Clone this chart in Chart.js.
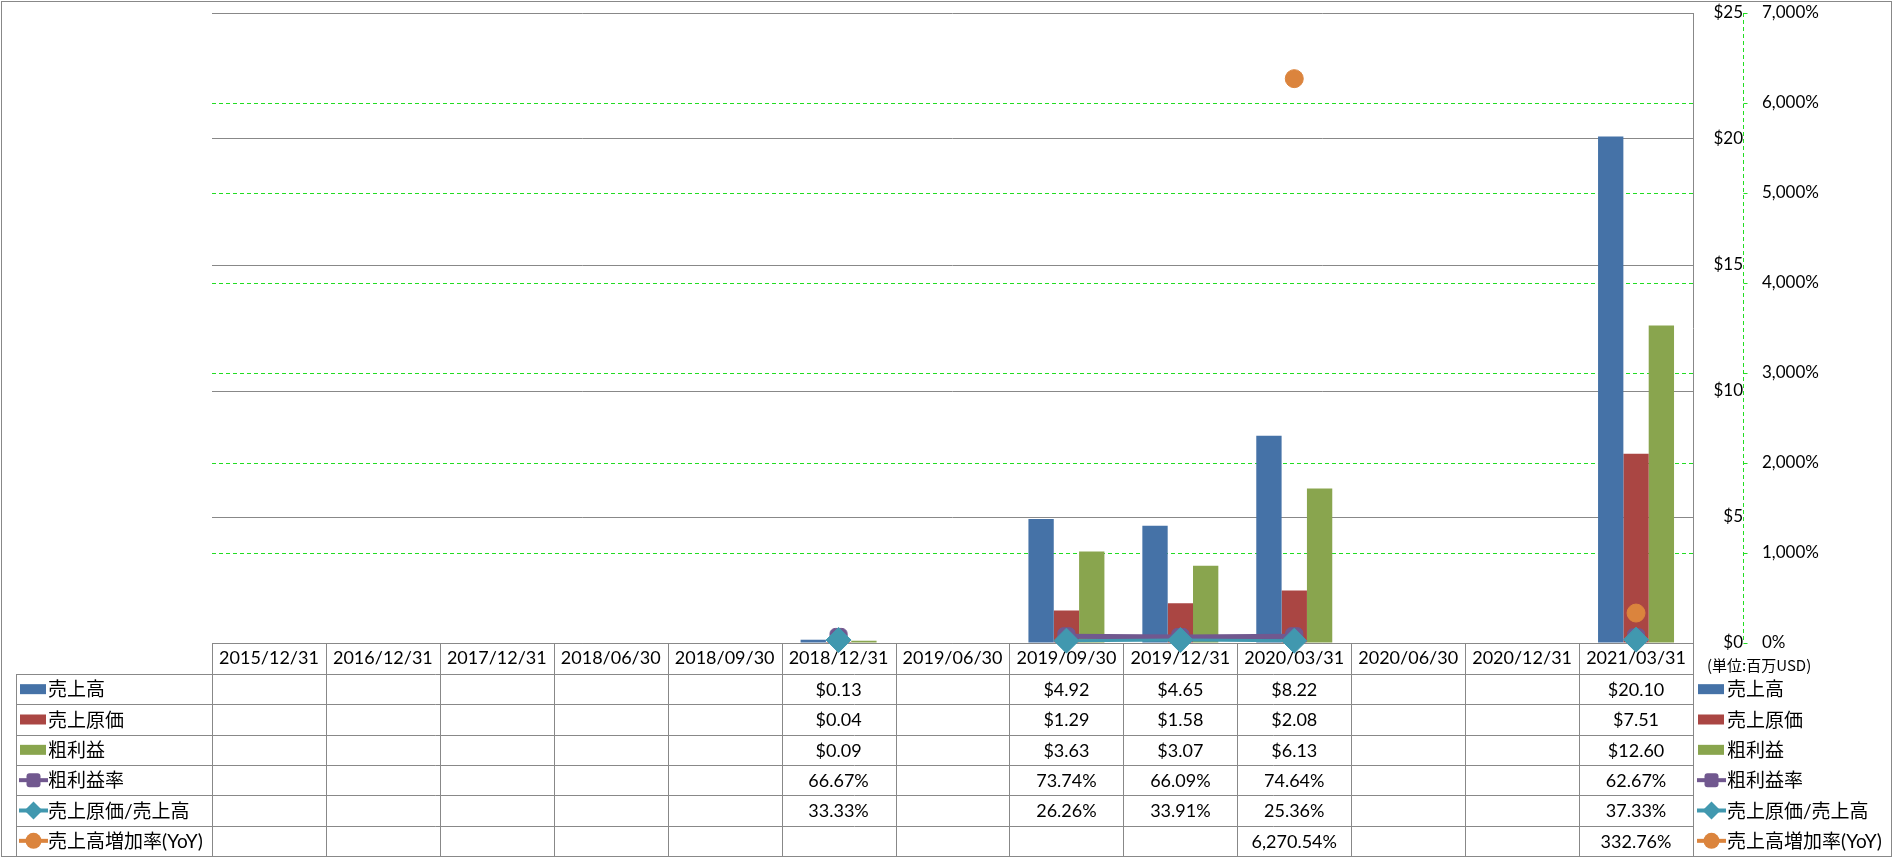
<!DOCTYPE html>
<html>
<head>
<meta charset="utf-8">
<script src="https://cdn.jsdelivr.net/npm/chart.js@4"></script>
<style>
html,body{margin:0;padding:0;background:#fff;}
#wrap{width:1893px;height:858px;position:relative;}
</style>
</head>
<body>
<div id="wrap"><canvas id="c"></canvas></div>
<script>
// ---- data ----
const categories = ['2015/12/31','2016/12/31','2017/12/31','2018/06/30','2018/09/30','2018/12/31','2019/06/30','2019/09/30','2019/12/31','2020/03/31','2020/06/30','2020/12/31','2021/03/31'];
const salesUSD       = [null,null,null,null,null,0.13,null,4.92,4.65,8.22,null,null,20.10];
const costUSD        = [null,null,null,null,null,0.04,null,1.29,1.58,2.08,null,null,7.51];
const grossProfitUSD = [null,null,null,null,null,0.09,null,3.63,3.07,6.13,null,null,12.60];
const grossMarginPct = [null,null,null,null,null,66.67,null,73.74,66.09,74.64,null,null,62.67];
const costRatioPct   = [null,null,null,null,null,33.33,null,26.26,33.91,25.36,null,null,37.33];
const salesGrowthPct = [null,null,null,null,null,null,null,null,null,6270.54,null,null,332.76];
const dollarTicks  = [0,5,10,15,20,25];
const percentTicks = [0,1000,2000,3000,4000,5000,6000,7000];
const seriesNames  = ['売上高','売上原価','粗利益','粗利益率','売上原価/売上高','売上高増加率(YoY)'];
const unitLabel    = '(単位:百万USD)';

// ---- styles ----
const COLORS = ['#4572A7','#AA4643','#89A54E','#71588F','#4198AF','#DB843D'];
const KINDS  = ['bar','bar','bar','rectRounded','rectRot','circle'];
const FONT_FAMILY = "Lato, 'Noto Sans CJK JP', sans-serif";
const GRID_GRAY = '#888888';
const GREEN = '#22dd22';
const CLEAR = 'rgba(0,0,0,0)';

const fmtDollar = v => '$' + v.toFixed(2);
const fmtPct = v => v.toLocaleString('en-US',{minimumFractionDigits:2,maximumFractionDigits:2}) + '%';
const tableRows = [
  {values: salesUSD, fmt: fmtDollar},
  {values: costUSD, fmt: fmtDollar},
  {values: grossProfitUSD, fmt: fmtDollar},
  {values: grossMarginPct, fmt: fmtPct},
  {values: costRatioPct, fmt: fmtPct},
  {values: salesGrowthPct, fmt: fmtPct}
];

function drawMarker(ctx, kind, cx, cy, color, small) {
  ctx.save();
  ctx.fillStyle = color;
  ctx.beginPath();
  if (kind === 'rectRounded') {
    const h = small ? 7 : 8.5, r = 3;
    ctx.roundRect(cx - h, cy - h, 2*h, 2*h, r);
  } else if (kind === 'rectRot') {
    const h = small ? 9 : 12.5;
    ctx.moveTo(cx - h, cy); ctx.lineTo(cx, cy - h); ctx.lineTo(cx + h, cy); ctx.lineTo(cx, cy + h); ctx.closePath();
  } else {
    ctx.arc(cx, cy, small ? 8 : 9, 0, Math.PI*2);
  }
  ctx.fill();
  ctx.restore();
}

function drawKey(ctx, k, x0, cy) {
  const color = COLORS[k];
  ctx.save();
  if (KINDS[k] === 'bar') {
    ctx.fillStyle = color;
    ctx.fillRect(x0 + 1, cy - 5, 26, 10);
  } else {
    ctx.strokeStyle = color;
    ctx.lineWidth = 4;
    ctx.beginPath(); ctx.moveTo(x0, cy); ctx.lineTo(x0 + 29, cy); ctx.stroke();
    drawMarker(ctx, KINDS[k], x0 + 14.5, cy, color, true);
  }
  ctx.restore();
}

const tablePlugin = {
  id: 'dataTable',
  beforeDatasetsDraw(chart) {
    const ctx = chart.ctx;
    const area = chart.chartArea;
    const xs = chart.scales.x;
    const n = categories.length;
    const colW = (area.right - area.left) / n;
    const tableTop = area.bottom;
    const headerBottom = tableTop + 31;
    const tableBottom = chart.height - 2;
    const rowH = (tableBottom - headerBottom) / tableRows.length;
    const leftX = 16;
    const px = v => Math.round(v) + 0.5;

    ctx.save();
    ctx.strokeStyle = GRID_GRAY;
    ctx.lineWidth = 1;
    ctx.beginPath();
    ctx.moveTo(area.left, px(tableTop)); ctx.lineTo(area.right, px(tableTop));
    for (let r = 0; r <= tableRows.length; r++) {
      const y = px(headerBottom + r * rowH);
      ctx.moveTo(leftX, y); ctx.lineTo(area.right, y);
    }
    ctx.moveTo(px(leftX), px(headerBottom)); ctx.lineTo(px(leftX), px(tableBottom));
    for (let i = 0; i <= n; i++) {
      const x = px(area.left + i * colW);
      ctx.moveTo(x, px(tableTop)); ctx.lineTo(x, px(tableBottom));
    }
    ctx.stroke();

    ctx.textBaseline = 'middle';
    for (let r = 0; r < tableRows.length; r++) {
      const cy = headerBottom + (r + 0.5) * rowH;
      drawKey(ctx, r, 19, cy);
      ctx.fillStyle = '#000';
      ctx.textAlign = 'left';
      ctx.font = "19px " + FONT_FAMILY;
      ctx.fillText(seriesNames[r], 48, cy + 1);
      ctx.font = "18px " + FONT_FAMILY;
      ctx.textAlign = 'center';
      const row = tableRows[r];
      row.values.forEach((v, i) => {
        if (v === null || v === undefined) return;
        ctx.fillText(row.fmt(v), xs.getPixelForValue(i), cy + 1);
      });
      drawKey(ctx, r, 1697, cy);
      ctx.fillStyle = '#000';
      ctx.textAlign = 'left';
      ctx.font = "19px " + FONT_FAMILY;
      ctx.fillText(seriesNames[r], 1727, cy + 1);
    }

    ctx.fillStyle = '#000';
    ctx.font = "15px 'Noto Sans CJK JP', sans-serif";
    ctx.textAlign = 'left';
    ctx.fillText(unitLabel, 1707, tableTop + 22);

    // secondary axis: dashed green axis line and short tick marks
    const y1 = chart.scales.y1;
    const ax = px(y1.left);
    ctx.strokeStyle = GREEN;
    ctx.setLineDash([4,3]);
    ctx.beginPath();
    ctx.moveTo(ax, area.top); ctx.lineTo(ax, area.bottom);
    ctx.stroke();
    ctx.setLineDash([]);
    ctx.beginPath();
    y1.ticks.forEach(t => {
      const y = px(y1.getPixelForValue(t.value));
      ctx.moveTo(ax, y); ctx.lineTo(ax + 4, y);
    });
    ctx.stroke();

    ctx.strokeStyle = GRID_GRAY;
    ctx.strokeRect(1.5, 1.5, chart.width - 3, chart.height - 3);
    ctx.restore();
  }
};

const barDs = (k, data) => ({
  type: 'bar', label: seriesNames[k], data, yAxisID: 'y',
  backgroundColor: COLORS[k], borderWidth: 0,
  categoryPercentage: 0.667, barPercentage: 1.0, order: 10 + k
});
const lineDs = (k, data, width, radius, order) => ({
  type: 'line', label: seriesNames[k], data, yAxisID: 'y1',
  borderColor: COLORS[k], backgroundColor: COLORS[k], borderWidth: width,
  pointStyle: KINDS[k], pointRadius: radius, pointHoverRadius: radius,
  pointBackgroundColor: COLORS[k], pointBorderColor: COLORS[k], pointBorderWidth: 1,
  spanGaps: false, tension: 0, clip: false, order
});

new Chart(document.getElementById('c'), {
  data: {
    labels: categories,
    datasets: [
      barDs(0, salesUSD),
      barDs(1, costUSD),
      barDs(2, grossProfitUSD),
      lineDs(3, grossMarginPct, 5, 10, 3),
      lineDs(4, costRatioPct, 3, 12.5, 2),
      lineDs(5, salesGrowthPct, 3, 9, 1)
    ]
  },
  options: {
    responsive: true,
    maintainAspectRatio: false,
    animation: false,
    devicePixelRatio: 1,
    layout: { autoPadding: false, padding: { left: 212, top: 13, right: 0, bottom: 184 } },
    plugins: { legend: { display: false }, tooltip: { enabled: false } },
    scales: {
      x: {
        type: 'category',
        position: 'bottom',
        offset: true,
        grid: { display: false, drawTicks: false },
        border: { display: false },
        ticks: { color: '#000', font: { family: FONT_FAMILY, size: 18 }, padding: 4, maxRotation: 0, autoSkip: false },
        afterFit: s => { s.height = 31; }
      },
      y: {
        position: 'right',
        weight: 0,
        min: 0, max: 25,
        afterBuildTicks: s => { s.ticks = dollarTicks.map(v => ({ value: v })); },
        grid: { color: GRID_GRAY, lineWidth: 1, drawTicks: true, tickLength: 17, tickColor: CLEAR },
        border: { display: true, color: GRID_GRAY, width: 1 },
        ticks: { color: '#000', font: { family: FONT_FAMILY, size: 17 }, crossAlign: 'far', padding: 0,
                 callback: v => '$' + v },
        afterFit: s => { s.width = 50; }
      },
      y1: {
        position: 'right',
        weight: 1,
        min: 0, max: 7000,
        afterBuildTicks: s => { s.ticks = percentTicks.map(v => ({ value: v })); },
        grid: {
          color: c => (c.tick && (c.tick.value === 0 || c.tick.value === 7000)) ? CLEAR : GREEN,
          lineWidth: 1, drawTicks: true, tickLength: 19, tickColor: CLEAR
        },
        border: { display: false, dash: [4,3] },
        ticks: { color: '#000', font: { family: FONT_FAMILY, size: 17 }, padding: 0,
                 callback: v => v.toLocaleString('en-US') + '%' },
        afterFit: s => { s.width = 150; }
      }
    }
  },
  plugins: [tablePlugin]
});
</script>
</body>
</html>
